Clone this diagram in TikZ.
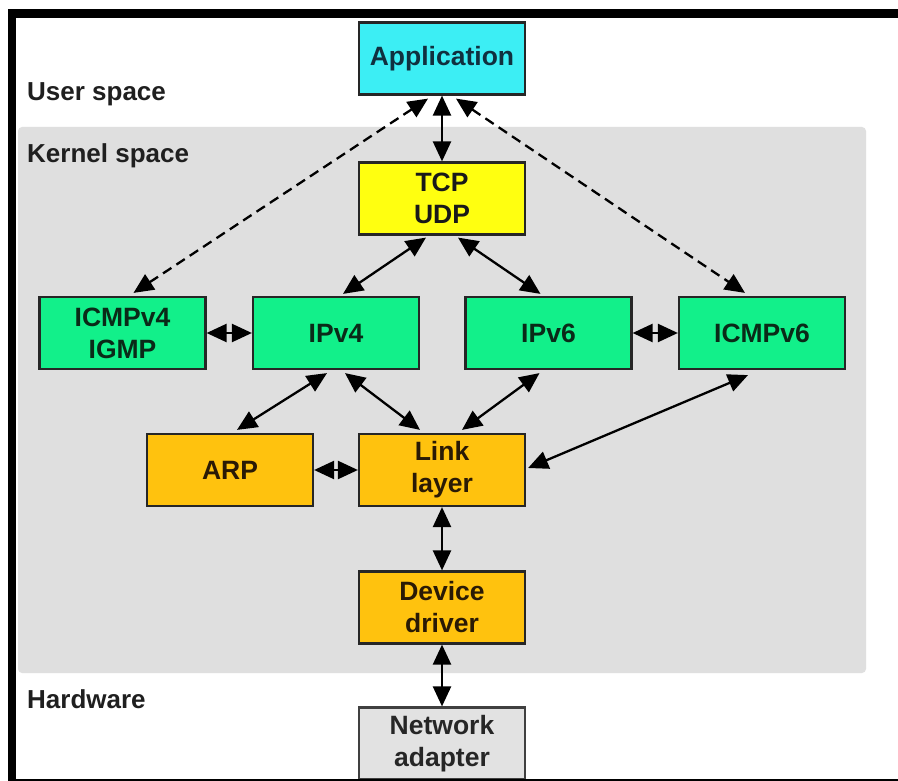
\documentclass[tikz,border=0pt]{standalone}
\usepackage{fontspec}
\setmainfont{Liberation Sans}
\usetikzlibrary{arrows.meta}
\definecolor{appc}{HTML}{3CEEF4}
\definecolor{apptxt}{HTML}{10303F}
\definecolor{tcpc}{HTML}{FFFF10}
\definecolor{ipc}{HTML}{12F08A}
\definecolor{iptxt}{HTML}{0A2A18}
\definecolor{linkc}{HTML}{FFC20E}
\definecolor{linktxt}{HTML}{2A1A05}
\definecolor{nicc}{HTML}{E2E2E2}
\definecolor{kernc}{HTML}{DFDFDF}
\tikzset{
  box/.style={draw=black!85, line width=2.2pt, minimum width=166pt, minimum height=72pt,
    inner sep=0pt, align=center, font=\fontsize{26.5}{32}\selectfont\bfseries},
  lbl/.style={inner sep=0pt, font=\fontsize{26}{30}\selectfont\bfseries, text=black!88},
  arr/.style={line width=2.3pt, {Triangle[length=20pt,width=18pt]}-{Triangle[length=20pt,width=18pt]}},
  darr/.style={arr, dash pattern=on 10pt off 6pt},
}
\begin{document}
\begin{tikzpicture}[x=1pt,y=-1pt]
\useasboundingbox (0,0) rectangle (898,781);
\fill[white] (0,0) rectangle (898,781);
\fill[kernc, rounded corners=4pt] (18,127) rectangle (866,673);

\node[lbl, anchor=base west] (us) at (27,101) {User space};
\node[lbl, anchor=base west] (ks) at (27,163) {Kernel space};
\node[lbl, anchor=base west] (hw) at (27,708) {Hardware};

\node[box, fill=appc, text=apptxt] (app) at (442,58.5) {Application};
\node[box, fill=tcpc, text=black!90] (tcp) at (442,198.5) {TCP\\UDP};
\node[box, fill=ipc, text=iptxt] (icmp4) at (122.5,333) {ICMPv4\\IGMP};
\node[box, fill=ipc, text=iptxt] (ipv4) at (336,333) {IPv4};
\node[box, fill=ipc, text=iptxt] (ipv6) at (548.5,333) {IPv6};
\node[box, fill=ipc, text=iptxt] (icmp6) at (762,333) {ICMPv6};
\node[box, fill=linkc, text=linktxt] (arp) at (230,470) {ARP};
\node[box, fill=linkc, text=linktxt] (link) at (442,470) {Link\\layer};
\node[box, fill=linkc, text=linktxt] (dev) at (442,607.5) {Device\\driver};
\node[box, fill=nicc, draw=black!75, text=black!85, minimum height=72pt] (nic) at (442,743.5) {Network\\adapter};

\draw[darr] ([xshift=-14pt,yshift=-3pt]app.south) -- ([xshift=11pt,yshift=3pt]icmp4.north);
\draw[darr] ([xshift=14pt,yshift=-3pt]app.south) -- ([xshift=-17pt,yshift=3pt]icmp6.north);
\draw[arr] (app.south) -- (tcp.north);
\draw[arr] ([xshift=-16pt,yshift=-2pt]tcp.south) -- ([xshift=7pt,yshift=2pt]ipv4.north);
\draw[arr] ([xshift=16pt,yshift=-2pt]tcp.south) -- ([xshift=-8pt,yshift=2pt]ipv6.north);
\draw[arr] (icmp4.east) -- (ipv4.west);
\draw[arr] (ipv6.east) -- (icmp6.west);
\draw[arr] ([xshift=-9pt,yshift=-3pt]ipv4.south) -- ([xshift=7pt,yshift=3pt]arp.north);
\draw[arr] ([xshift=9pt,yshift=-3pt]ipv4.south) -- ([xshift=-22pt,yshift=3pt]link.north);
\draw[arr] ([xshift=-9pt,yshift=-3pt]ipv6.south) -- ([xshift=20pt,yshift=3pt]link.north);
\draw[arr] ([xshift=-14pt,yshift=-5pt]icmp6.south) -- ([xshift=2pt,yshift=2pt]link.east);
\draw[arr] (arp.east) -- (link.west);
\draw[arr] (link.south) -- (dev.north);
\draw[arr] (dev.south) -- (nic.north);

\fill[black] (8,9) rectangle (898,18);
\fill[black] (8,9) rectangle (16,781);
\fill[black] (8,779) rectangle (898,781);
\end{tikzpicture}
\end{document}
